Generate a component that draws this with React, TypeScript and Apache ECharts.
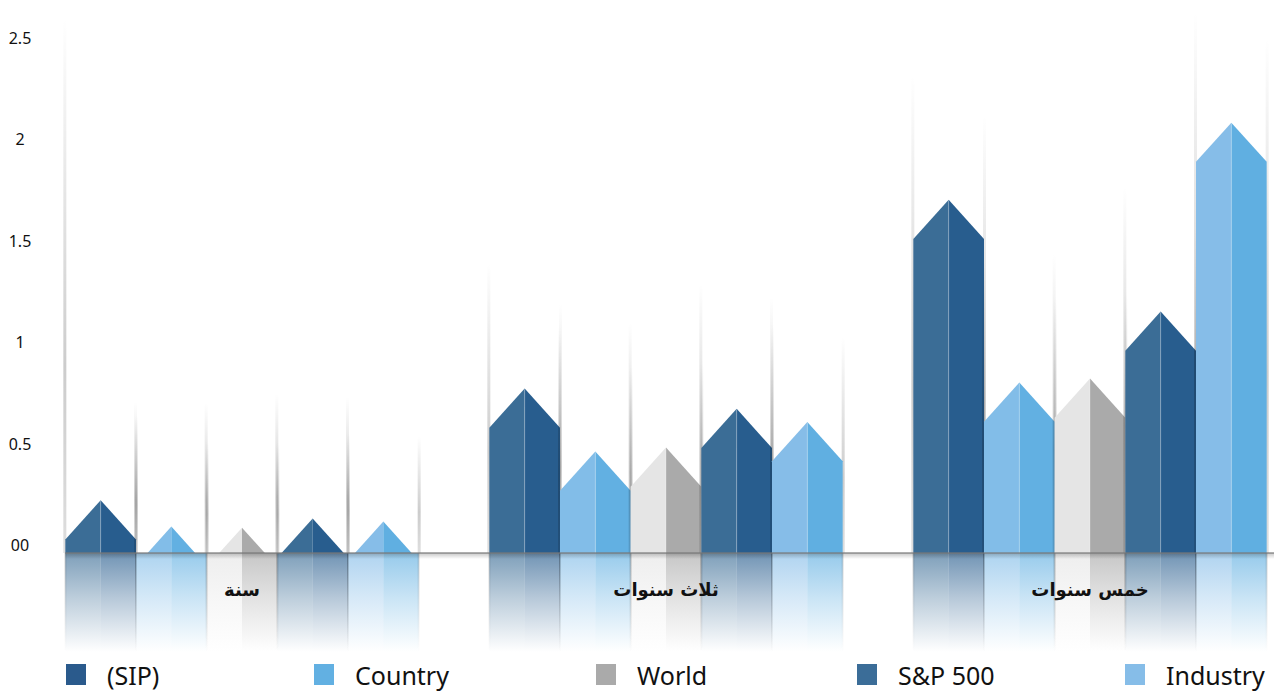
import React, { useEffect, useRef } from "react";
import * as echarts from "echarts";

const categories = ["سنة", "ثلاث سنوات", "خمس سنوات"];
const seriesNames = ["(SIP)", "Country", "World", "S&P 500", "Industry"];
const sipValues = [0.26, 0.81, 1.74];
const countryValues = [0.13, 0.5, 0.84];
const worldValues = [0.125, 0.52, 0.86];
const spValues = [0.17, 0.71, 1.19];
const industryValues = [0.155, 0.645, 2.12];
const yTickLabels: Record<string, string> = { "0": "00", "0.5": "0.5", "1": "1", "1.5": "1.5", "2": "2", "2.5": "2.5" };

const allValues = [sipValues, countryValues, worldValues, spValues, industryValues];
const palette = [
  { left: "#3b6d96", right: "#285d8e", legend: "#2a5a8c" },
  { left: "#82bde8", right: "#62b0e2", legend: "#62b0e2" },
  { left: "#e5e5e5", right: "#aaaaaa", legend: "#aaaaaa" },
  { left: "#3b6d96", right: "#285d8e", legend: "#3b6d98" },
  { left: "#86bde8", right: "#60afe1", legend: "#86bde8" },
];
const legendLefts = [66, 314, 596, 857, 1125];

function rgba(hex: string, a: number) {
  const h = hex.replace("#", "");
  const r = parseInt(h.slice(0, 2), 16);
  const g = parseInt(h.slice(2, 4), 16);
  const b = parseInt(h.slice(4, 6), 16);
  return `rgba(${r},${g},${b},${a})`;
}

function vgrad(stops: [number, string][]) {
  return new echarts.graphic.LinearGradient(
    0, 0, 0, 1,
    stops.map(([offset, color]) => ({ offset, color }))
  );
}

function makeSeries(si: number) {
  const col = palette[si];
  const nCat = categories.length;
  return {
    type: "custom",
    name: seriesNames[si],
    itemStyle: { color: col.legend },
    encode: { x: 0, y: 1 },
    z: 2 + si * 0.01,
    data: allValues[si].map((v, j) => [j, v]),
    renderItem: (params: any, api: any) => {
      const j = api.value(0);
      const v = api.value(1);
      const band = api.size([1, 0])[0];
      const w = band / 6;
      const c = api.coord([j, 0]);
      const base = c[1];
      const apex = api.coord([j, v])[1];
      const x0 = c[0] - 2.5 * w + si * w;
      const x1 = x0 + w;
      const xm = x0 + w / 2;
      const H = w * 0.555;
      const shoulder = apex + H;
      const depth = w * 1.4;
      let leftPts: number[][];
      let rightPts: number[][];
      if (shoulder < base) {
        leftPts = [[x0, base], [x0, shoulder], [xm, apex], [xm, base]];
        rightPts = [[xm, base], [xm, apex], [x1, shoulder], [x1, base]];
      } else {
        const hw = ((base - apex) * (w / 2)) / H;
        leftPts = [[xm - hw, base], [xm, apex], [xm, base]];
        rightPts = [[xm, base], [xm, apex], [xm + hw, base]];
      }
      const firstBar = si === 0 && j === 0;
      const topL = firstBar ? 18 : Math.max(12, apex - 125);
      const topR = Math.max(12, apex - 85);
      const shadowGrad = () =>
        vgrad([[0, "rgba(0,0,0,0)"], [0.65, "rgba(0,0,0,0.2)"], [1, "rgba(0,0,0,0.13)"]]);
      const reflShadow = () => vgrad([[0, "rgba(0,0,0,0.14)"], [1, "rgba(0,0,0,0)"]]);
      const children: any[] = [
        { type: "rect", shape: { x: x0 - 2, y: topL, width: 3, height: base - topL }, style: { fill: shadowGrad() } },
        { type: "rect", shape: { x: x1 - 1, y: topR, width: 3, height: base - topR }, style: { fill: shadowGrad() } },
        { type: "polygon", shape: { points: leftPts }, style: { fill: col.left } },
        { type: "polygon", shape: { points: rightPts }, style: { fill: col.right } },
        {
          type: "rect",
          shape: { x: x0, y: base, width: w / 2, height: depth },
          style: { fill: vgrad([[0, rgba(col.left, 0.66)], [0.45, rgba(col.left, 0.34)], [1, rgba(col.left, 0)]]) },
        },
        {
          type: "rect",
          shape: { x: xm, y: base, width: w / 2, height: depth },
          style: { fill: vgrad([[0, rgba(col.right, 0.66)], [0.45, rgba(col.right, 0.34)], [1, rgba(col.right, 0)]]) },
        },
        { type: "rect", shape: { x: x0 - 1, y: base, width: 2, height: depth }, style: { fill: reflShadow() } },
        { type: "rect", shape: { x: x1 - 1, y: base, width: 2, height: depth }, style: { fill: reflShadow() } },
      ];
      if (shoulder < base) {
        children.push({
          type: "line",
          shape: { x1: xm, y1: apex + 1, x2: xm, y2: base },
          style: { stroke: "rgba(255,255,255,0.25)", lineWidth: 1 },
        });
      }
      if (si === seriesNames.length - 1) {
        const bx0 = j === 0 ? c[0] - 2.5 * w : c[0] - band / 2;
        const bx1 = j === nCat - 1 ? c[0] + band : c[0] + band / 2;
        children.push({
          type: "rect",
          shape: { x: bx0, y: base, width: bx1 - bx0, height: 6 },
          style: { fill: vgrad([[0, "rgba(0,0,0,0.22)"], [1, "rgba(0,0,0,0)"]]) },
        });
        children.push({
          type: "line",
          shape: { x1: bx0, y1: base, x2: bx1, y2: base },
          style: { stroke: "rgba(120,120,120,0.6)", lineWidth: 2 },
        });
      }
      return { type: "group", children };
    },
  };
}

export default function App() {
  const ref = useRef<HTMLDivElement>(null);
  useEffect(() => {
    document.body.style.margin = "0";
    const chart = echarts.init(ref.current!, null, { renderer: "svg" });
    const option: any = {
      animation: false,
      backgroundColor: "#ffffff",
      grid: { left: 242, right: 184, top: 45.5, bottom: 140, containLabel: false },
      xAxis: {
        type: "category",
        data: categories,
        boundaryGap: false,
        z: 5,
        axisTick: { show: false },
        axisLine: { show: false },
        axisLabel: {
          margin: 27,
          fontSize: 18,
          fontWeight: "bold",
          color: "#111",
          fontFamily: "DejaVu Sans",
        },
      },
      yAxis: {
        type: "value",
        min: 0,
        max: 2.5,
        interval: 0.5,
        axisLine: { show: false },
        axisTick: { show: false },
        splitLine: { show: false },
        axisLabel: {
          margin: 222,
          align: "center",
          verticalAlign: "bottom",
          fontSize: 16,
          color: "#111",
          fontFamily: "Noto Sans",
          formatter: (v: number) => yTickLabels[String(v)] ?? String(v),
        },
      },
      legend: seriesNames.map((n, i) => ({
        data: [n],
        left: legendLefts[i],
        top: 662,
        icon: "rect",
        itemWidth: 20,
        itemHeight: 21,
        itemGap: 0,
        padding: 0,
        textStyle: {
          fontSize: 25,
          lineHeight: 25,
          color: "#111",
          fontFamily: "Noto Sans",
          padding: [0, 0, 0, 16],
        },
      })),
      series: seriesNames.map((_, i) => makeSeries(i)),
    };
    chart.setOption(option);
    return () => chart.dispose();
  }, []);
  return <div ref={ref} style={{ width: 1274, height: 693 }} />;
}
